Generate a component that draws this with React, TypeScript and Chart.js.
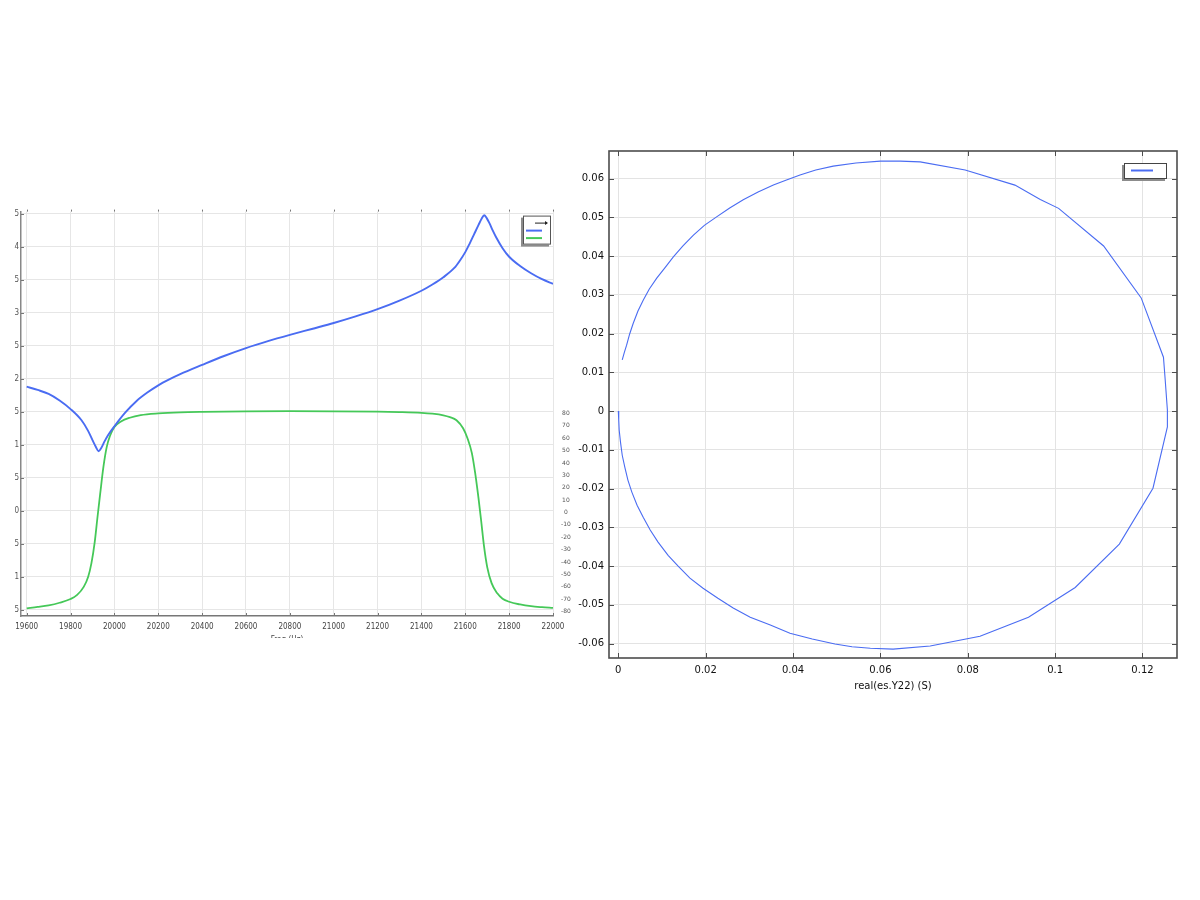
import React, { useEffect, useRef } from "react";
import { Chart, registerables } from "chart.js";

Chart.register(...registerables);

// ---------- Left chart data (frequency sweep) ----------
const magFreqHz = [
  19600, 19650, 19700, 19750, 19800, 19850, 19880, 19900, 19915, 19928, 19940, 19955, 19970,
  20000, 20050, 20100, 20150, 20200, 20250, 20300, 20400, 20500, 20600, 20700, 20800, 20900, 21000,
  21100, 21200, 21300, 21400, 21450, 21500, 21550, 21575, 21600, 21620, 21640, 21660, 21675, 21686,
  21697, 21710, 21725, 21740, 21770, 21800, 21850, 21900, 21950, 22000,
];
const magnitudeLog = [
  1.88, 1.83, 1.77, 1.67, 1.54, 1.37, 1.21, 1.07, 0.97, 0.9, 0.95, 1.05, 1.14,
  1.28, 1.49, 1.66, 1.79, 1.9, 1.99, 2.07, 2.21, 2.345, 2.465, 2.57, 2.665, 2.755, 2.845,
  2.945, 3.055, 3.185, 3.335, 3.43, 3.54, 3.68, 3.79, 3.92, 4.05, 4.19, 4.33, 4.43, 4.48,
  4.44, 4.36, 4.25, 4.15, 3.98, 3.85, 3.71, 3.6, 3.51, 3.44,
];
const phaseFreqHz = [
  19600, 19650, 19700, 19750, 19800, 19830, 19860, 19880, 19895, 19910, 19922, 19935, 19950,
  19965, 19980, 20000, 20030, 20070, 20120, 20200, 20300, 20400, 20600, 20800, 21000, 21200,
  21300, 21400, 21450, 21500, 21530, 21560, 21590, 21610, 21630, 21645, 21660, 21672, 21686,
  21700, 21720, 21745, 21770, 21800, 21850, 21900, 21950, 22000,
];
const phaseDeg = [
  -77.3, -76.2, -74.9, -72.8, -69.8, -66.5, -60, -52, -41, -24, -5, 15, 37,
  53, 62, 69, 73.5, 76.5, 78.6, 80.0, 80.9, 81.3, 81.7, 81.8, 81.7, 81.4,
  81.1, 80.5, 79.8, 78.5, 77, 74.5, 68, 60, 48, 32, 12, -6, -28,
  -44, -57, -65, -69.5, -72, -74.2, -75.6, -76.4, -77,
];
const freqTicks = [19600, 19800, 20000, 20200, 20400, 20600, 20800, 21000, 21200, 21400, 21600, 21800, 22000];
const magTicks = [-1.5, -1, -0.5, 0, 0.5, 1, 1.5, 2, 2.5, 3, 3.5, 4, 4.5];
const phaseTicks = [-80, -70, -60, -50, -40, -30, -20, -10, 0, 10, 20, 30, 40, 50, 60, 70, 80];

// ---------- Right chart data (admittance locus) ----------
const realY22 = [
  0, 0.0001, 0.0002, 0.0005, 0.0009, 0.0015, 0.0022, 0.0031, 0.0043, 0.0057, 0.0073, 0.0091,
  0.0114, 0.0137, 0.0164, 0.0194, 0.0228, 0.0263, 0.0302, 0.0348, 0.0393, 0.0444, 0.0496, 0.0535,
  0.0577, 0.0629, 0.0714, 0.0828, 0.0939, 0.1046, 0.1147, 0.1224, 0.1257, 0.1257, 0.1252,
  0.1248, 0.1197, 0.1111, 0.1008, 0.0966, 0.0908, 0.0794,
  0.0691, 0.0645, 0.06, 0.0544, 0.0492, 0.0452, 0.0416, 0.0385, 0.0355, 0.032, 0.0286, 0.0255,
  0.0225, 0.0197, 0.0172, 0.0148, 0.0126, 0.0107, 0.0088, 0.0071, 0.0057, 0.0045, 0.0034, 0.0026,
  0.0019, 0.0014, 0.0009,
];
const imagY22 = [
  0, -0.0023, -0.0049, -0.008, -0.0114, -0.0145, -0.0178, -0.0209, -0.0243, -0.0274, -0.0307, -0.0338,
  -0.0372, -0.04, -0.0431, -0.0457, -0.0483, -0.0508, -0.0532, -0.0552, -0.0573, -0.0588, -0.0601, -0.0608,
  -0.0612, -0.0614, -0.0606, -0.0581, -0.0532, -0.0455, -0.0343, -0.0199, -0.0041, 0.0003, 0.008,
  0.0139, 0.0292, 0.0426, 0.0523, 0.0546, 0.0583, 0.0622,
  0.0643, 0.0645, 0.0645, 0.064, 0.0632, 0.0622, 0.0609, 0.0596, 0.0583, 0.0565, 0.0545, 0.0524,
  0.0501, 0.0479, 0.0454, 0.0426, 0.0398, 0.037, 0.0343, 0.0315, 0.0286, 0.0258, 0.0226, 0.0199,
  0.017, 0.0152, 0.0132,
];
const realTicks = [0, 0.02, 0.04, 0.06, 0.08, 0.1, 0.12];
const imagTicks = [-0.06, -0.05, -0.04, -0.03, -0.02, -0.01, 0, 0.01, 0.02, 0.03, 0.04, 0.05, 0.06];

const BLUE = "#4a6cf2";
const GREEN = "#45c858";
const NARROW = '"DejaVu Sans Condensed", "Liberation Sans Narrow", "DejaVu Sans", sans-serif';
const SANS = '"DejaVu Sans", sans-serif';

const fmt = (v: number) => String(parseFloat((+v).toFixed(3)));

const leftDecor = {
  id: "leftDecor",
  afterDatasetsDraw(chart: any) {
    const { ctx, chartArea: a } = chart;
    const xs = chart.scales.x;
    const ys = chart.scales.y;
    ctx.save();
    ctx.strokeStyle = "#777";
    ctx.lineWidth = 1;
    xs.ticks.forEach((t: any) => {
      const px = Math.round(xs.getPixelForValue(t.value)) + 0.5;
      ctx.beginPath();
      ctx.moveTo(px, a.bottom);
      ctx.lineTo(px, a.bottom - 3);
      ctx.moveTo(px, a.top);
      ctx.lineTo(px, a.top - 2);
      ctx.stroke();
    });
    ys.ticks.forEach((t: any) => {
      const py = Math.round(ys.getPixelForValue(t.value)) + 0.5;
      ctx.beginPath();
      ctx.moveTo(a.left, py);
      ctx.lineTo(a.left + 3, py);
      ctx.stroke();
    });
    // legend box
    const bw = 28, bh = 29;
    const bx = a.right - 2 - bw, by = a.top + 4;
    ctx.fillStyle = "#8c8c8c";
    ctx.fillRect(bx - 2, by + 2, bw, bh);
    ctx.fillStyle = "#fff";
    ctx.fillRect(bx, by, bw, bh);
    ctx.strokeStyle = "#555";
    ctx.lineWidth = 1;
    ctx.strokeRect(bx + 0.5, by + 0.5, bw - 1, bh - 1);
    ctx.strokeStyle = "#222";
    ctx.beginPath();
    ctx.moveTo(bx + 12, by + 7.5);
    ctx.lineTo(bx + 24, by + 7.5);
    ctx.stroke();
    ctx.fillStyle = "#222";
    ctx.beginPath();
    ctx.moveTo(bx + 25, by + 7.5);
    ctx.lineTo(bx + 22, by + 5.5);
    ctx.lineTo(bx + 22, by + 9.5);
    ctx.closePath();
    ctx.fill();
    chart.data.datasets.forEach((ds: any, i: number) => {
      ctx.strokeStyle = ds.borderColor;
      ctx.lineWidth = 2;
      const y = by + 15 + i * 7.5;
      ctx.beginPath();
      ctx.moveTo(bx + 3, y);
      ctx.lineTo(bx + 19, y);
      ctx.stroke();
    });
    ctx.restore();
  },
};

const rightDecor = {
  id: "rightDecor",
  afterDatasetsDraw(chart: any) {
    const { ctx, chartArea: a } = chart;
    const xs = chart.scales.x;
    const ys = chart.scales.y;
    ctx.save();
    ctx.strokeStyle = "#4d4d4d";
    ctx.lineWidth = 1;
    xs.ticks.forEach((t: any) => {
      const px = Math.round(xs.getPixelForValue(t.value)) + 0.5;
      ctx.beginPath();
      ctx.moveTo(px, a.bottom);
      ctx.lineTo(px, a.bottom - 5);
      ctx.moveTo(px, a.top);
      ctx.lineTo(px, a.top + 5);
      ctx.stroke();
    });
    ys.ticks.forEach((t: any) => {
      const py = Math.round(ys.getPixelForValue(t.value)) + 0.5;
      ctx.beginPath();
      ctx.moveTo(a.left, py);
      ctx.lineTo(a.left + 5, py);
      ctx.moveTo(a.right, py);
      ctx.lineTo(a.right - 5, py);
      ctx.stroke();
    });
    ctx.lineWidth = 1.6;
    ctx.strokeRect(a.left, a.top, a.right - a.left, a.bottom - a.top);
    const bw = 43, bh = 16;
    const bx = a.right - 10 - bw, by = a.top + 12;
    ctx.fillStyle = "#8c8c8c";
    ctx.fillRect(bx - 2, by + 2, bw, bh);
    ctx.fillStyle = "#fff";
    ctx.fillRect(bx, by, bw, bh);
    ctx.strokeStyle = "#444";
    ctx.lineWidth = 1;
    ctx.strokeRect(bx + 0.5, by + 0.5, bw - 1, bh - 1);
    const ds = chart.data.datasets[0];
    ctx.strokeStyle = ds.borderColor;
    ctx.lineWidth = 2;
    ctx.beginPath();
    ctx.moveTo(bx + 7, by + 7.5);
    ctx.lineTo(bx + 29, by + 7.5);
    ctx.stroke();
    ctx.restore();
  },
};

function LeftChart() {
  const ref = useRef<HTMLCanvasElement>(null);
  useEffect(() => {
    if (!ref.current) return;
    const chart = new Chart(ref.current, {
      type: "line",
      data: {
        datasets: [
          {
            data: magFreqHz.map((f, i) => ({ x: f, y: magnitudeLog[i] })),
            borderColor: BLUE,
            borderWidth: 1.9,
            pointRadius: 0,
            cubicInterpolationMode: "monotone",
            yAxisID: "y",
          },
          {
            data: phaseFreqHz.map((f, i) => ({ x: f, y: phaseDeg[i] })),
            borderColor: GREEN,
            borderWidth: 1.8,
            pointRadius: 0,
            cubicInterpolationMode: "monotone",
            yAxisID: "y1",
          },
        ],
      },
      options: {
        responsive: false,
        animation: false,
        layout: { padding: { top: 10, left: 0, right: 0, bottom: 0 } },
        plugins: { legend: { display: false }, tooltip: { enabled: false } },
        scales: {
          x: {
            type: "linear",
            min: 19574,
            max: 22000,
            afterBuildTicks: (ax: any) => { ax.ticks = freqTicks.map((v) => ({ value: v })); },
            ticks: { font: { family: NARROW, size: 8 }, color: "#444", padding: 6, maxRotation: 0, autoSkip: false, callback: (v: any) => String(v) },
            grid: { color: "#e6e6e6", drawTicks: false },
            border: { color: "#777", width: 1.5 },
            title: { display: true, text: "Freq (Hz)", font: { family: NARROW, size: 8 }, color: "#444", padding: { top: 0, bottom: 1 } },
            afterFit: (s: any) => { s.height = 30; },
          },
          y: {
            position: "left",
            min: -1.598,
            max: 4.535,
            afterBuildTicks: (ax: any) => { ax.ticks = magTicks.map((v) => ({ value: v })); },
            ticks: { font: { family: NARROW, size: 8 }, color: "#555", padding: 2, autoSkip: false, callback: (v: any) => fmt(v) },
            grid: { color: "#e6e6e6", drawTicks: false },
            border: { color: "#888", width: 1.5 },
            afterFit: (s: any) => { s.width = 31; },
          },
          y1: {
            position: "right",
            min: -83.5,
            max: 242.9,
            afterBuildTicks: (ax: any) => { ax.ticks = phaseTicks.map((v) => ({ value: v })); },
            ticks: { font: { family: SANS, size: 6 }, color: "#555", padding: 8, crossAlign: "center", autoSkip: false },
            grid: { display: false, drawTicks: false },
            border: { display: false },
            afterFit: (s: any) => { s.width = 30; },
          },
        },
      } as any,
      plugins: [leftDecor],
    });
    return () => chart.destroy();
  }, []);
  return (
    <div style={{ position: "absolute", left: 14, top: 200, width: 571, height: 438, overflow: "hidden" }}>
      <canvas ref={ref} width={593} height={446} style={{ position: "absolute", left: -24, top: 0 }} />
    </div>
  );
}

function RightChart() {
  const ref = useRef<HTMLCanvasElement>(null);
  useEffect(() => {
    if (!ref.current) return;
    const chart = new Chart(ref.current, {
      type: "scatter",
      data: {
        datasets: [
          {
            data: realY22.map((r, i) => ({ x: r, y: imagY22[i] })),
            borderColor: BLUE,
            backgroundColor: BLUE,
            borderWidth: 1.1,
            pointRadius: 0,
            showLine: true,
            tension: 0,
          },
        ],
      },
      options: {
        responsive: false,
        animation: false,
        layout: { padding: { top: 11, left: 0, right: 8, bottom: 0 } },
        plugins: { legend: { display: false }, tooltip: { enabled: false } },
        scales: {
          x: {
            type: "linear",
            min: -0.00213,
            max: 0.1279,
            afterBuildTicks: (ax: any) => { ax.ticks = realTicks.map((v) => ({ value: v })); },
            ticks: { font: { family: SANS, size: 10 }, color: "#111", padding: 6, maxRotation: 0, autoSkip: false, callback: (v: any) => fmt(v) },
            grid: { color: "#e3e3e3", drawTicks: false },
            border: { display: false },
            title: { display: true, text: "real(es.Y22) (S)", font: { family: SANS, size: 10 }, color: "#111", padding: { top: 0, bottom: 6 } },
            afterFit: (s: any) => { s.height = 40; },
          },
          y: {
            type: "linear",
            min: -0.0637,
            max: 0.0671,
            afterBuildTicks: (ax: any) => { ax.ticks = imagTicks.map((v) => ({ value: v })); },
            ticks: { font: { family: SANS, size: 10 }, color: "#111", padding: 5, autoSkip: false, callback: (v: any) => fmt(v) },
            grid: { color: "#e3e3e3", drawTicks: false },
            border: { display: false },
            afterFit: (s: any) => { s.width = 49; },
          },
        },
      } as any,
      plugins: [rightDecor],
    });
    return () => chart.destroy();
  }, []);
  return (
    <canvas ref={ref} width={625} height={558} style={{ position: "absolute", left: 560, top: 140 }} />
  );
}

export default function App() {
  return (
    <div style={{ position: "absolute", left: 0, top: 0, width: 1200, height: 900, background: "#fff", overflow: "hidden" }}>
      <LeftChart />
      <RightChart />
    </div>
  );
}
